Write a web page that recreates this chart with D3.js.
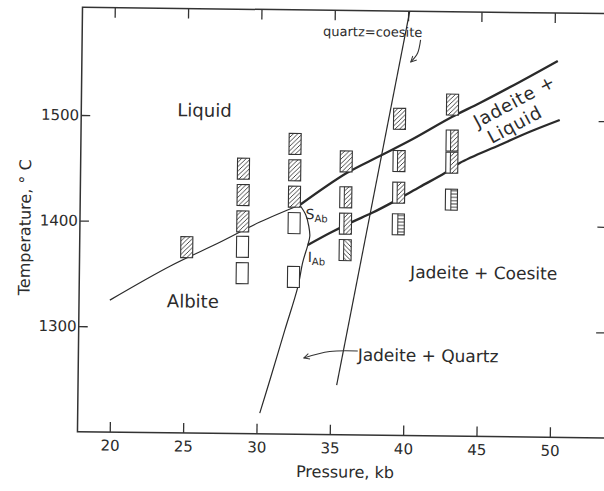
<!DOCTYPE html>
<html>
<head>
<meta charset="utf-8">
<script src="https://d3js.org/d3.v7.min.js"></script>
<title>Albite - Jadeite - Liquid</title>
<style>
body { margin: 0; background: #fff; }
svg { display: block; }
text { font-family: "DejaVu Sans", sans-serif; fill: #2b2b2b; }
</style>
</head>
<body>
<svg id="svg" width="604" height="491"></svg>
<script>

// experimental runs, [pressure kb, temperature C]
const liquidRuns = [[25.1,1376],[28.9,1451],[28.9,1426],[28.9,1401],[32.4,1475],[32.4,1450],[32.4,1425],[35.9,1459],[39.5,1500],[43.1,1514]];
const albiteRuns = [[28.9,1377],[28.9,1352],[32.4,1400],[32.4,1349]];
const jadeiteLiquidRuns = [[35.9,1425],[35.9,1400],[39.5,1460],[39.5,1430],[43.1,1480],[43.1,1459]];
const jadeiteQuartzLiquidRuns = [[35.9,1375]];
const jadeiteCoesiteRuns = [[39.5,1400],[43.1,1424]];

// phase boundaries
const albiteMelting = [[19.9,1325],[24.0,1358],[27.35,1381],[30.06,1400.6],[32.77,1417.2]];
const jadeiteLiquidUpper = [[32.77,1417.2],[35.94,1448],[38.18,1464.5],[40.42,1481],[43.06,1502.3],[44.96,1515.9],[47.66,1536.3],[50.24,1556.6]];
const jadeiteLiquidLower = [[33.35,1379.4],[34.84,1391],[36.33,1401.6],[37.68,1410.4],[39.11,1421],[40.93,1435.6],[42.63,1449.2],[43.64,1458.8],[46.35,1476.3],[48.39,1489.2],[50.42,1500.7]];
const albiteJadeiteQuartz = [[32.77,1417.2],[33.19,1407.8],[33.40,1397.4],[33.48,1387.9],[33.35,1379.4],[33.02,1363.2],[32.70,1339.4],[31.85,1298.5],[30.87,1250.9],[30.21,1219.6]];
const quartzCoesite = [[35.43,1247],[40.11,1602]];

// axes
const xTicks = [20,25,30,35,40,45,50];
const yTicks = [1300,1400,1500];
const pRange = [17.8, 54.3];
const tRange = [1200, 1602];

// labels [text, p, t]
const fieldLabels = [["Liquid",26.2,1506],["Albite",25.56,1325],["Jadeite + Coesite",45.36,1355]];
const bandLabels = [["Jadeite +",47.3,1518],["Liquid",47.35,1496]];
const qzLabel = ["quartz=coesite",37.6,1582];
const qzArrow = [[40.87,1575],[40.68,1562.5],[40.22,1554]];
const jqLabel = ["Jadeite + Quartz",36.84,1276];
const jqArrow = [[36.84,1279.6],[34.93,1278.8],[33.17,1272.4]];

let svg = d3.select("svg");
let chart = svg.append("g").attr("transform", "rotate(0.68,340,220)"); // scan is tilted

let x = d3.scaleLinear().domain(pRange).range([80, 80 + (pRange[1]-pRange[0])*14.67]);
let y = d3.scaleLinear().domain(tRange).range([434.8, 434.8 - (tRange[1]-tRange[0])*1.0557]);

let defs = svg.append("defs");
function hatch(id, d, w, h) {
  defs.append("pattern").attr("id", id)
    .attr("patternUnits", "userSpaceOnUse")
    .attr("width", w).attr("height", h)
    .append("path").attr("d", d)
    .attr("stroke", "#333").attr("stroke-width", 0.9).attr("fill", "none");
}
hatch("fwd", "M-1,1 l2,-2 M0,4.5 l4.5,-4.5 M3.5,5.5 l2,-2", 4.5, 4.5);
hatch("back", "M-1,3.5 l2,2 M0,0 l4.5,4.5 M3.5,-1 l2,2", 4.5, 4.5);
hatch("horiz", "M0,1.6 h4", 4, 3.3);

let arrow = defs.append("marker").attr("id", "arrow")
  .attr("viewBox", "0 0 10 10").attr("refX", 9).attr("refY", 5)
  .attr("markerWidth", 7).attr("markerHeight", 7)
  .attr("markerUnits", "userSpaceOnUse")
  .attr("orient", "auto");
arrow.append("path").attr("d", "M1,1 L9,5 L1,9").attr("fill", "none").attr("stroke", "#333").attr("stroke-width", 1.4);

// frame
let x0 = x(pRange[0]), x1 = x(pRange[1]), yTop = y(tRange[1]), yBot = y(tRange[0]);
chart.append("rect")
  .attr("x", x0).attr("y", yTop)
  .attr("width", x1 - x0).attr("height", yBot - yTop)
  .attr("fill", "none").attr("stroke", "#333").attr("stroke-width", 1.5);

function styleAxis(g) {
  g.select(".domain").remove();
  g.selectAll("line").attr("stroke", "#333").attr("stroke-width", 1.3);
  g.selectAll("text").attr("font-family", "DejaVu Sans").attr("font-size", 15).attr("fill", "#2b2b2b");
}

chart.append("g").attr("transform", `translate(0,${yBot})`)
  .call(d3.axisBottom(x).tickValues(xTicks).tickSize(-10).tickPadding(8).tickFormat(d3.format("d")))
  .call(styleAxis);
chart.append("g").attr("transform", `translate(0,${yTop})`)
  .call(d3.axisTop(x).tickValues(xTicks).tickSize(-10).tickFormat(""))
  .call(styleAxis);
chart.append("g").attr("transform", `translate(${x0},0)`)
  .call(d3.axisLeft(y).tickValues(yTicks).tickSize(-9).tickPadding(2).tickFormat(d3.format("d")))
  .call(styleAxis);
chart.append("g").attr("transform", `translate(${x1},0)`)
  .call(d3.axisRight(y).tickValues(yTicks).tickSize(-18).tickFormat(""))
  .call(styleAxis);

// axis titles
chart.append("text").attr("x", 348).attr("y", 472)
  .attr("text-anchor", "middle").attr("dominant-baseline", "central")
  .attr("font-size", 16).text("Pressure, kb");
chart.append("text").attr("transform", "translate(25,231) rotate(-90)")
  .attr("text-anchor", "middle").attr("dominant-baseline", "central")
  .attr("font-size", 16).text("Temperature, ° C");

// boundaries
let line = d3.line().x(d => x(d[0])).y(d => y(d[1])).curve(d3.curveCatmullRom);
function boundary(data, w) {
  chart.append("path").datum(data).attr("d", line)
    .attr("fill", "none").attr("stroke", "#2a2a2a").attr("stroke-width", w);
}
boundary(albiteMelting, 1.2);
boundary(albiteJadeiteQuartz, 1.2);
boundary(quartzCoesite, 1.2);
boundary(jadeiteLiquidUpper, 2.3);
boundary(jadeiteLiquidLower, 2.3);

// run markers
const mw = 12, mh = 21;
function runs(data, fill, split) {
  let g = chart.append("g").selectAll("g").data(data).join("g")
    .attr("transform", d => `translate(${x(d[0]) - mw/2},${y(d[1]) - mh/2})`);
  g.append("rect").attr("width", mw).attr("height", mh).attr("fill", "#fff");
  if (fill) {
    g.append("rect").attr("x", split).attr("width", mw - split).attr("height", mh).attr("fill", fill);
  }
  if (split > 0) {
    g.append("line").attr("x1", split).attr("x2", split).attr("y1", 0).attr("y2", mh)
      .attr("stroke", "#333").attr("stroke-width", 1);
  }
  g.append("rect").attr("width", mw).attr("height", mh)
    .attr("fill", "none").attr("stroke", "#333").attr("stroke-width", 1.1);
}
runs(liquidRuns, "url(#fwd)", 0);
runs(albiteRuns, null, 0);
runs(jadeiteLiquidRuns, "url(#fwd)", 4.5);
runs(jadeiteQuartzLiquidRuns, "url(#back)", 4.5);
runs(jadeiteCoesiteRuns, "url(#horiz)", 5.5);

// field labels
chart.selectAll(".field").data(fieldLabels).join("text")
  .attr("class", "field")
  .attr("x", d => x(d[1])).attr("y", d => y(d[2]))
  .attr("text-anchor", "middle").attr("dominant-baseline", "central")
  .attr("font-size", d => d[0].length > 8 ? 17 : 18)
  .text(d => d[0]);

chart.selectAll(".band").data(bandLabels).join("text")
  .attr("class", "band")
  .attr("transform", d => `translate(${x(d[1])},${y(d[2])}) rotate(-29)`)
  .attr("text-anchor", "middle").attr("dominant-baseline", "central")
  .attr("font-size", 18).attr("letter-spacing", 0.8)
  .text(d => d[0]);

chart.append("text").attr("x", x(qzLabel[1])).attr("y", y(qzLabel[2]))
  .attr("text-anchor", "middle").attr("dominant-baseline", "central")
  .attr("font-size", 13).text(qzLabel[0]);
chart.append("text").attr("x", x(jqLabel[1])).attr("y", y(jqLabel[2]))
  .attr("text-anchor", "start").attr("dominant-baseline", "central")
  .attr("font-size", 17).text(jqLabel[0]);

let arrowLine = d3.line().x(d => x(d[0])).y(d => y(d[1])).curve(d3.curveNatural);
[qzArrow, jqArrow].forEach(a => {
  chart.append("path").datum(a).attr("d", arrowLine)
    .attr("fill", "none").attr("stroke", "#333").attr("stroke-width", 1.1)
    .attr("marker-end", "url(#arrow)");
});

// invariant points
function point(name, p, t) {
  let tx = chart.append("text").attr("x", x(p)).attr("y", y(t)).attr("font-size", 14);
  tx.append("tspan").text(name);
  tx.append("tspan").attr("dy", 3).attr("font-size", 10).text("Ab");
}
point("S", 33.18, 1404);
point("I", 33.36, 1363.3);

</script>
</body>
</html>
